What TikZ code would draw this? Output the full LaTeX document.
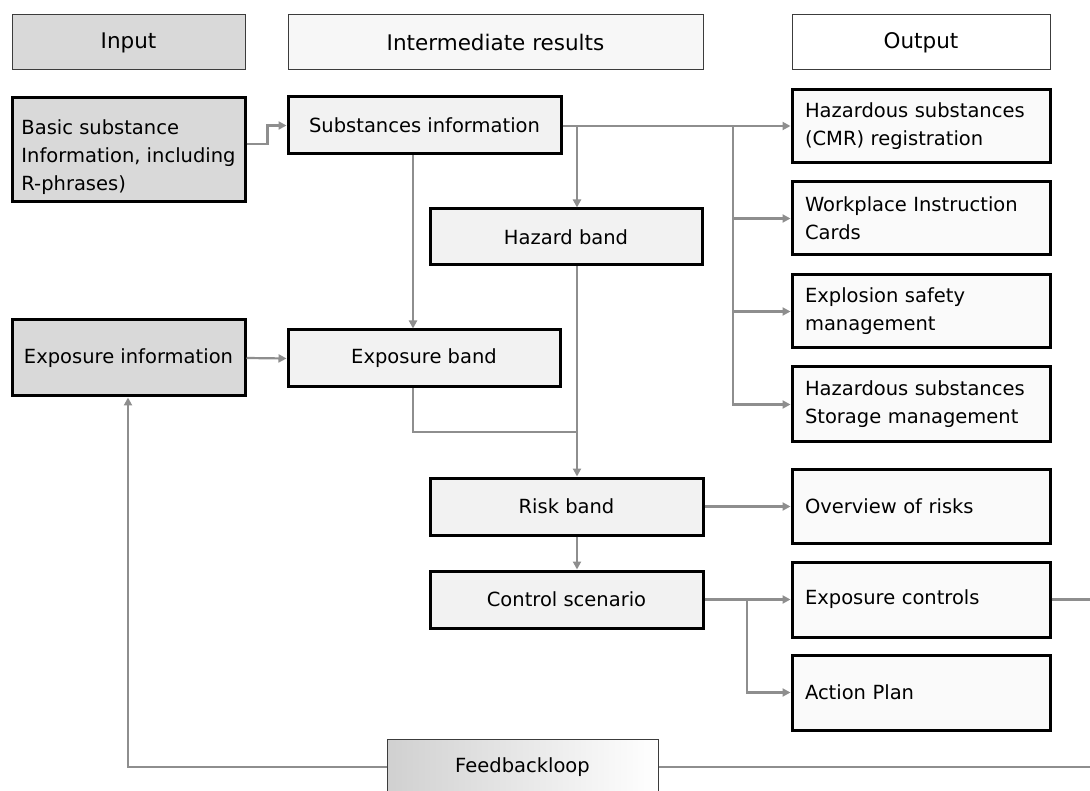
\documentclass[tikz,border=0pt]{standalone}
\usepackage{fontspec}
\setmainfont{DejaVu Sans}
\usetikzlibrary{arrows.meta,calc}
\definecolor{conn}{HTML}{8E8E8E}
\definecolor{ingray}{HTML}{D9D9D9}
\definecolor{midgray}{HTML}{F2F2F2}
\definecolor{outgray}{HTML}{FAFAFA}
\definecolor{hdrmid}{HTML}{F7F7F7}
\definecolor{hdrline}{HTML}{3C3C3C}
\tikzset{
  base/.style={rectangle, inner sep=0pt, font=\fontsize{19.5}{28}\selectfont, text=black},
  hdr/.style={base, draw=hdrline, line width=1pt, minimum height=55pt, font=\fontsize{21.5}{28}\selectfont},
  inbox/.style={base, draw=black, line width=3pt, fill=ingray},
  midbox/.style={base, draw=black, line width=3pt, fill=midgray, minimum height=57pt},
  outbox/.style={base, draw=black, line width=3pt, fill=outgray, minimum width=258pt, minimum height=74pt, align=left, text width=232pt},
  link/.style={draw=conn, line width=2.2pt},
  arr/.style={link, -{Triangle[length=8pt,width=8pt]}}
}
\begin{document}
\begin{tikzpicture}[x=1pt,y=-1pt]
\useasboundingbox (0,0) rectangle (1090,791);
\clip (0,0) rectangle (1090,791);
\fill[white] (0,0) rectangle (1090,791);
% headers
\node[hdr, fill=ingray, minimum width=233pt] (hin) at (128.5,42.5) {Input};
\node[hdr, fill=hdrmid, minimum width=415pt] (hmid) at (495.5,42.5) {Intermediate results};
\node[hdr, fill=white, minimum width=258pt] (hout) at (921,42.5) {Output};
% input column
\node[inbox, minimum width=233pt, minimum height=104pt,
  label={[base, align=left, yshift=-7pt]center:{Basic substance\\Information, including\\R-phrases)}}] (basic) at (128.5,150) {};
\node[inbox, minimum width=233pt, minimum height=76pt] (expinfo) at (128.5,358) {Exposure information};
% intermediate column
\node[midbox, minimum width=273pt] (subs) at (424.5,125.5) {Substances information};
\node[midbox, minimum width=272pt, minimum height=56pt] (haz) at (566,237) {Hazard band};
\node[midbox, minimum width=272pt] (expband) at (424,358.5) {Exposure band};
\node[midbox, minimum width=273pt] (risk) at (566.5,506.5) {Risk band};
\node[midbox, minimum width=273pt] (ctrl) at (566.5,599.5) {Control scenario};
% output column
\node[outbox, minimum height=73pt] (cmr) at (921,126.5) {Hazardous substances\\(CMR) registration};
\node[outbox, minimum height=73pt] (work) at (921,218.5) {Workplace Instruction\\Cards};
\node[outbox, minimum height=73pt] (expl) at (921,311.5) {Explosion safety\\management};
\node[outbox, minimum height=75pt] (stor) at (921,404.5) {Hazardous substances\\Storage management};
\node[outbox] (over) at (921,506) {Overview of risks};
\node[outbox, minimum height=75pt] (expc) at (921,599.5) {Exposure controls};
\node[outbox, minimum height=75pt] (act) at (921,692.5) {Action Plan};
% feedback
\node[base, draw=hdrline, line width=1pt, left color=ingray!90!gray, right color=white, minimum width=271pt, minimum height=56pt] (fb) at (522.5,767) {Feedbackloop};
% coordinates
\coordinate (trunk) at (733,126);
\coordinate (hzx) at (577,126);
\coordinate (exx) at (413,0);
\coordinate (join) at (577,432);
\coordinate (br) at (747,599.5);
\coordinate (edgeA) at (1092,599.5);
\coordinate (edgeB) at (1092,767);
\coordinate (fbx) at (128,0);
% connectors
\draw[arr] ($(basic.east)+(0,-6)$) -- ++(21,0) |- (subs.west);
\draw[arr] (subs.east |- trunk) -- (cmr.west |- trunk);
\draw[arr] (trunk) |- (work.west);
\draw[arr] (trunk) |- (expl.west);
\draw[arr] (trunk) |- (stor.west);
\draw[arr] (hzx) -- (hzx |- haz.north);
\draw[arr] (subs.south -| exx) -- (expband.north -| exx);
\draw[arr] (expinfo.east) -- (expband.west);
\draw[arr] (haz.south -| join) -- (risk.north -| join);
\draw[link] (expband.south -| exx) |- (join);
\draw[arr] (risk.east) -- (risk.east -| over.west);
\draw[arr] (risk.south -| join) -- (ctrl.north -| join);
\draw[arr] (ctrl.east) -- (expc.west);
\draw[arr] (br) |- (act.west);
\draw[link] (expc.east) -- (edgeA);
\draw[link] (fb.east) -- (edgeB);
\draw[arr] (fb.west) -| (fbx |- expinfo.south);
\end{tikzpicture}
\end{document}
